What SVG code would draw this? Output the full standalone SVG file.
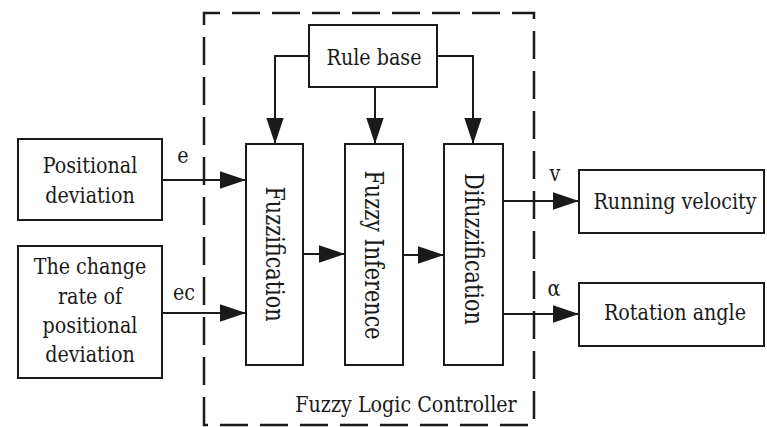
<svg xmlns="http://www.w3.org/2000/svg" width="767" height="427" viewBox="0 0 767 427">
<style>
.box{fill:#fff;stroke:#1a1a1a;stroke-width:2}
.ln{fill:none;stroke:#1a1a1a;stroke-width:2}
.dash{fill:none;stroke:#1a1a1a;stroke-width:2.5;stroke-dasharray:28 12}
text{font-family:'DejaVu Serif','Liberation Serif',serif;fill:#1a1a1a;font-size:22.5px;text-anchor:middle}
.v{font-size:26px;dominant-baseline:central}
</style>
<defs>
<marker id="ah" markerUnits="userSpaceOnUse" markerWidth="26" markerHeight="18" viewBox="0 0 24 16" refX="24" refY="8" orient="auto">
<path d="M0,0 L24,8 L0,16 Z" fill="#1a1a1a"/>
</marker>
</defs>
<rect width="767" height="427" fill="#fff"/>
<g id="controller">
<path class="dash" d="M204,425 L204,13 L534,13 L534,425 Z"/>
<text transform="translate(406,412) scale(0.85,1)">Fuzzy Logic Controller</text>
</g>
<g id="connectors">
<path class="ln" d="M309,56 H275 V144" marker-end="url(#ah)"/>
<path class="ln" d="M375,87 V144" marker-end="url(#ah)"/>
<path class="ln" d="M437,56 H473 V144" marker-end="url(#ah)"/>
<path class="ln" d="M162,180 H246" marker-end="url(#ah)"/>
<path class="ln" d="M162,313 H246" marker-end="url(#ah)"/>
<path class="ln" d="M303,254 H345" marker-end="url(#ah)"/>
<path class="ln" d="M403,255 H444" marker-end="url(#ah)"/>
<path class="ln" d="M503,201 H579" marker-end="url(#ah)"/>
<path class="ln" d="M503,314 H579" marker-end="url(#ah)"/>
<text transform="translate(183,163) scale(0.85,1)">e</text>
<text transform="translate(184,300) scale(0.85,1)">ec</text>
<text transform="translate(555,181) scale(0.85,1)">v</text>
<text transform="translate(554,296) scale(0.85,1)">α</text>
</g>
<g id="rule-base">
<rect class="box" x="309" y="25" width="128" height="62"/>
<text transform="translate(374,65) scale(0.85,1)">Rule base</text>
</g>
<g id="positional-deviation">
<rect class="box" x="18" y="139" width="144" height="81"/>
<text transform="translate(90,173) scale(0.85,1)">Positional</text>
<text transform="translate(90,203) scale(0.85,1)">deviation</text>
</g>
<g id="change-rate">
<rect class="box" x="18" y="246" width="144" height="132"/>
<text transform="translate(90,274) scale(0.85,1)">The change</text>
<text transform="translate(90,304) scale(0.85,1)">rate of</text>
<text transform="translate(90,333) scale(0.85,1)">positional</text>
<text transform="translate(90,362) scale(0.85,1)">deviation</text>
</g>
<g id="fuzzification">
<rect class="box" x="246" y="144" width="57" height="221"/>
<text class="v" transform="translate(274.5,254) rotate(90) scale(0.8,1)">Fuzzification</text>
</g>
<g id="fuzzy-inference">
<rect class="box" x="345" y="144" width="58" height="221"/>
<text class="v" transform="translate(374,255) rotate(90) scale(0.8,1)">Fuzzy Inference</text>
</g>
<g id="difuzzification">
<rect class="box" x="444" y="144" width="59" height="221"/>
<text class="v" transform="translate(473.5,249) rotate(90) scale(0.8,1)">Difuzzification</text>
</g>
<g id="running-velocity">
<rect class="box" x="579" y="170" width="185" height="63"/>
<text transform="translate(675,209) scale(0.85,1)">Running velocity</text>
</g>
<g id="rotation-angle">
<rect class="box" x="579" y="283" width="185" height="63"/>
<text transform="translate(675,320) scale(0.85,1)">Rotation angle</text>
</g>
</svg>
